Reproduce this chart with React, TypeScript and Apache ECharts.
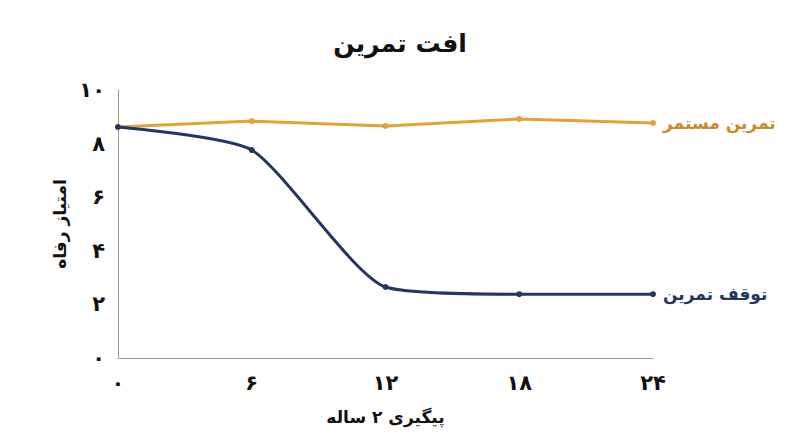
import React, { useRef, useEffect } from "react";
import * as echarts from "echarts";

const months = [0, 6, 12, 18, 24];
const continuedTraining = [8.62, 8.84, 8.66, 8.92, 8.77];
const stoppedTraining = [8.62, 7.76, 2.65, 2.38, 2.38];
const seriesNames = ["تمرین مستمر", "توقف تمرین"];

const toPersian = (n: number) =>
  String(n).replace(/\d/g, (d) => "۰۱۲۳۴۵۶۷۸۹"[Number(d)]);

const font = "DejaVu Sans, Noto Sans, sans-serif";

const App = function () {
  const chart = useRef<HTMLDivElement>(null);
  useEffect(() => {
    if (!chart.current) return;
    const myChart = echarts.init(chart.current, undefined, { renderer: "svg" });
    const option = {
      animation: false,
      textStyle: { fontFamily: font },
      title: {
        text: "افت تمرین",
        left: "center",
        top: 26,
        textStyle: { fontFamily: font, fontSize: 25, fontWeight: "bold", color: "#111" },
      },
      grid: { left: 118, right: 147, top: 90, bottom: 89 },
      xAxis: {
        type: "value",
        min: 0,
        max: 24,
        interval: 6,
        name: "پیگیری ۲ ساله",
        nameLocation: "middle",
        nameGap: 50,
        nameTextStyle: { fontFamily: font, fontSize: 17, fontWeight: "bold", color: "#111" },
        axisLine: { lineStyle: { color: "#999", width: 1 } },
        axisTick: { show: false },
        splitLine: { show: false },
        axisLabel: {
          margin: 14,
          fontSize: 21,
          color: "#111",
          fontWeight: "bold",
          formatter: (v: number) => toPersian(v),
        },
      },
      yAxis: {
        type: "value",
        min: 0,
        max: 10,
        interval: 2,
        name: "امتیاز رفاه",
        nameLocation: "middle",
        nameGap: 50,
        nameRotate: 90,
        nameTextStyle: { fontFamily: font, fontSize: 17, fontWeight: "bold", color: "#111" },
        axisLine: { show: true, lineStyle: { color: "#999", width: 1 } },
        axisTick: { show: false },
        splitLine: { show: false },
        axisLabel: {
          margin: 13,
          fontSize: 21,
          color: "#111",
          fontWeight: "bold",
          formatter: (v: number) => toPersian(v),
        },
      },
      series: [
        {
          name: seriesNames[0],
          type: "line",
          data: months.map((m, i) => [m, continuedTraining[i]]),
          symbol: "circle",
          symbolSize: 6,
          lineStyle: { color: "#E0A13F", width: 3 },
          itemStyle: { color: "#E0A13F" },
          endLabel: {
            show: true,
            formatter: "{a}",
            distance: 10,
            fontFamily: font,
            fontSize: 17,
            fontWeight: "bold",
            color: "#C98A2C",
          },
        },
        {
          name: seriesNames[1],
          type: "line",
          data: months.map((m, i) => [m, stoppedTraining[i]]),
          smooth: 0.2,
          symbol: "circle",
          symbolSize: 6,
          lineStyle: { color: "#24365F", width: 3 },
          itemStyle: { color: "#24365F" },
          endLabel: {
            show: true,
            formatter: "{a}",
            distance: 10,
            fontFamily: font,
            fontSize: 17,
            fontWeight: "bold",
            color: "#24365F",
          },
        },
      ],
    };
    myChart.setOption(option);
    return () => {
      myChart.dispose();
    };
  }, []);
  return (
    <div
      ref={chart}
      style={{ position: "fixed", left: 0, top: 0, width: 800, height: 447, background: "#fff" }}
    ></div>
  );
};
export default App;
